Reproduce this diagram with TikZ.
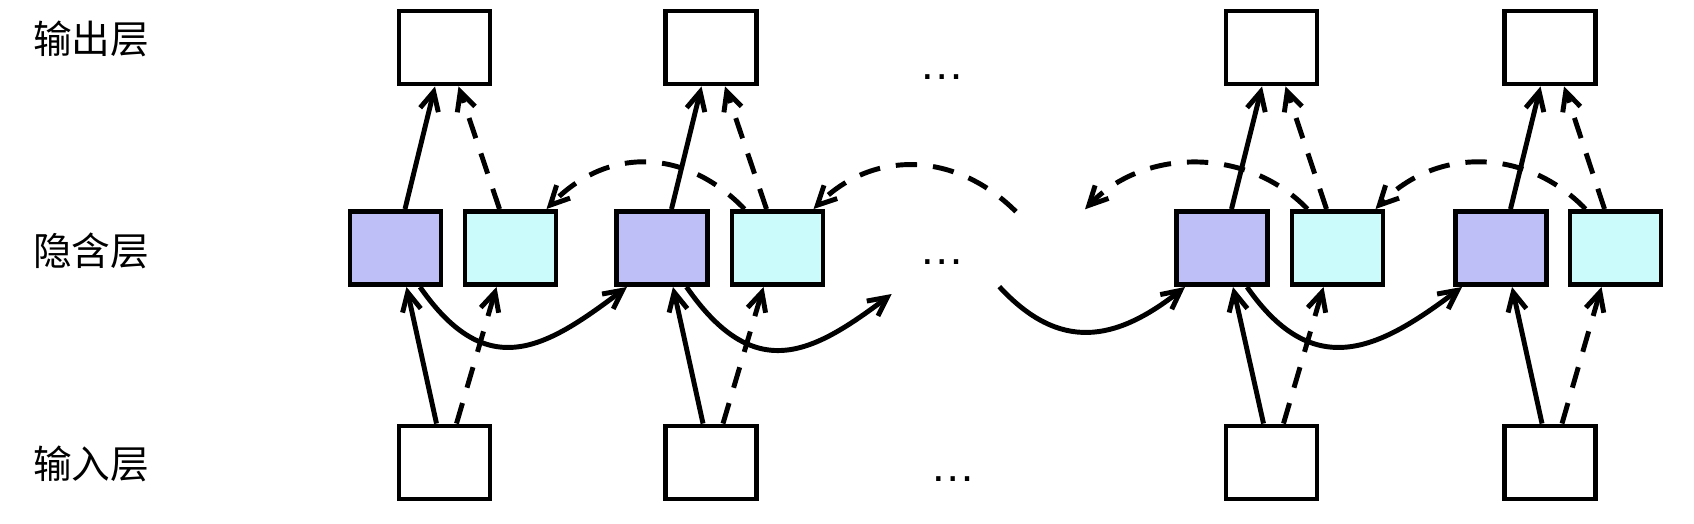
\documentclass[tikz,border=0pt]{standalone}
\usepackage{fontspec}
\newfontfamily\cjk{Noto Sans CJK SC}
\newfontfamily\gapfont{Liberation Sans}
\usetikzlibrary{arrows.meta,calc}
\definecolor{fwdfill}{RGB}{191,191,247}
\definecolor{bwdfill}{RGB}{204,251,251}
\tikzset{
  unit/.style={draw,line width=3.7pt,minimum width=68.25pt,minimum height=54.75pt,inner sep=0pt},
  fwdunit/.style={unit,fill=fwdfill},
  bwdunit/.style={unit,fill=bwdfill},
  conn/.style={line width=3.7pt,-{Straight Barb[length=14pt,width=14pt]}},
  bconn/.style={conn,dash pattern=on 16pt off 12pt},
  layername/.style={anchor=west,inner sep=0pt,font=\cjk\fontsize{29}{29}\selectfont},
  gapdots/.style={anchor=base,inner sep=0pt,font=\gapfont\fontsize{34}{34}\selectfont}
}
\begin{document}
\begin{tikzpicture}[x=0.75pt,y=0.75pt,yscale=-1,xscale=1]
\useasboundingbox (0,0) rectangle (1694,524);
% layer names
\node[layername] (lout) at (33,39) {输出层};
\node[layername] (lhid) at (33,251) {隐含层};
\node[layername] (lin) at (33,464) {输入层};
% output layer
\node[unit] (o1) at (444.5,47.5) {};
\node[unit] (o2) at (711,47.5) {};
\node[unit] (o3) at (1271.5,47.5) {};
\node[unit] (o4) at (1550,47.5) {};
% hidden layer
\node[fwdunit] (f1) at (395.5,248) {};
\node[bwdunit] (b1) at (510.5,248) {};
\node[fwdunit] (f2) at (662,248) {};
\node[bwdunit] (b2) at (777.5,248) {};
\node[fwdunit] (f3) at (1222,248) {};
\node[bwdunit] (b3) at (1337.5,248) {};
\node[fwdunit] (f4) at (1501,248) {};
\node[bwdunit] (b4) at (1615.5,248) {};
% input layer
\node[unit] (i1) at (444.5,462.5) {};
\node[unit] (i2) at (711,462.5) {};
\node[unit] (i3) at (1271.5,462.5) {};
\node[unit] (i4) at (1550,462.5) {};
% dots
\node[gapdots] (gout) at (942.5,80) {…};
\node[gapdots] (ghid) at (942,264) {…};
\node[gapdots] (gin) at (953.5,481) {…};
% free ends in the gap
\coordinate (fgapin) at (891.7,294);
\coordinate (fgapout) at (999.3,286.7);
\coordinate (bgapout) at (1016,211.7);
\coordinate (bgapin) at (1085,209.3);

% hidden to output
\draw[conn] ($(f1.north)+(9.5,0)$) -- ($(o1.south)+(-9.5,0)$);
\draw[bconn] ($(b1.north)+(-11,0)$) -- ($(o1.south)+(14,0)$);
\draw[conn] ($(f2.north)+(9.5,0)$) -- ($(o2.south)+(-9.5,0)$);
\draw[bconn] ($(b2.north)+(-11,0)$) -- ($(o2.south)+(14,0)$);
\draw[conn] ($(f3.north)+(9.5,0)$) -- ($(o3.south)+(-9.5,0)$);
\draw[bconn] ($(b3.north)+(-11,0)$) -- ($(o3.south)+(14,0)$);
\draw[conn] ($(f4.north)+(9.5,0)$) -- ($(o4.south)+(-9.5,0)$);
\draw[bconn] ($(b4.north)+(-11,0)$) -- ($(o4.south)+(14,0)$);
% input to hidden
\draw[conn] ($(i1.north)+(-8,0)$) -- ($(f1.south)+(11,0)$);
\draw[bconn] ($(i1.north)+(12,0)$) -- ($(b1.south)+(-14,0)$);
\draw[conn] ($(i2.north)+(-8,0)$) -- ($(f2.south)+(11,0)$);
\draw[bconn] ($(i2.north)+(12,0)$) -- ($(b2.south)+(-14,0)$);
\draw[conn] ($(i3.north)+(-8,0)$) -- ($(f3.south)+(11,0)$);
\draw[bconn] ($(i3.north)+(12,0)$) -- ($(b3.south)+(-14,0)$);
\draw[conn] ($(i4.north)+(-8,0)$) -- ($(f4.south)+(11,0)$);
\draw[bconn] ($(i4.north)+(12,0)$) -- ($(b4.south)+(-14,0)$);
% forward recurrence
\draw[conn] ($(f1.south)+(24.5,0)$) .. controls +(68,98) and +(-80,60) .. ($(f2.south)+(-35,0)$);
\draw[conn] ($(f2.south)+(24.5,0)$) .. controls +(68,98) and +(-80,60) .. (fgapin);
\draw[conn] (fgapout) .. controls +(60,65) and +(-70,55) .. ($(f3.south)+(-37,0)$);
\draw[conn] ($(f3.south)+(25,0)$) .. controls +(68,98) and +(-80,60) .. ($(f4.south)+(-39,0)$);
% backward recurrence
\draw[bconn] ($(b2.north)+(-33,0)$) .. controls +(-60,-62) and +(60,-62) .. ($(b1.north)+(36,0)$);
\draw[bconn] (bgapout) .. controls +(-60,-60) and +(60,-60) .. ($(b2.north)+(36,0)$);
\draw[bconn] ($(b3.north)+(-30,0)$) .. controls +(-60,-62) and +(60,-62) .. (bgapin);
\draw[bconn] ($(b4.north)+(-30,0)$) .. controls +(-60,-62) and +(60,-62) .. ($(b3.north)+(38,0)$);
\end{tikzpicture}
\end{document}
